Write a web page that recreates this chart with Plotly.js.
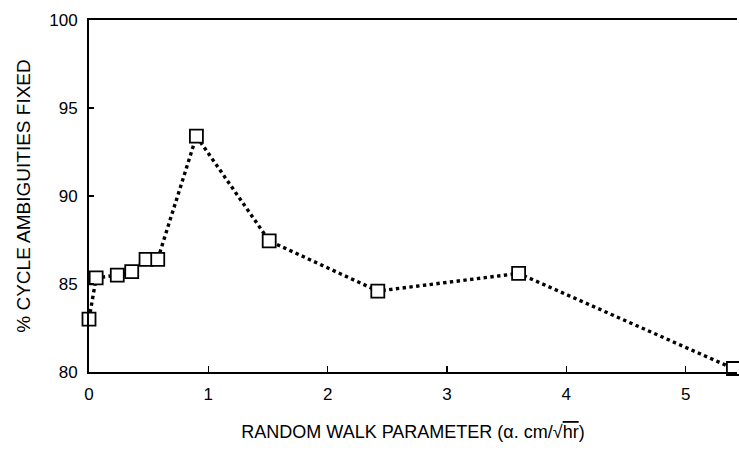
<!DOCTYPE html>
<html>
<head>
<meta charset="utf-8">
<script src="https://cdn.plot.ly/plotly-3.0.1.min.js"></script>
<style>html,body{margin:0;padding:0;background:#fff;}#chart{width:739px;height:453px;}</style>
</head>
<body>
<div id="chart"></div>
<script>
const alphaValues = [0, 0.06, 0.237, 0.358, 0.478, 0.576, 0.90, 1.51, 2.42, 3.60, 5.40];
const percentFixed = [83.0, 85.35, 85.5, 85.7, 86.4, 86.4, 93.4, 87.45, 84.6, 85.6, 80.2];
const xTicks = [0, 1, 2, 3, 4, 5];
const yTicks = [80, 85, 90, 95, 100];

const trace = {
  x: alphaValues,
  y: percentFixed,
  mode: 'lines',
  type: 'scatter',
  line: {color: '#000', width: 3.4, dash: 'dot'},
  cliponaxis: false,
  hoverinfo: 'skip'
};
const markers = {
  x: alphaValues,
  y: percentFixed,
  mode: 'markers',
  type: 'scatter',
  marker: {symbol: 'square', size: 13, color: '#fff', line: {width: 1.8, color: '#000'}},
  cliponaxis: false,
  hoverinfo: 'skip'
};

const layout = {
  width: 739, height: 453,
  margin: {l: 89, r: 2, t: 20, b: 81},
  paper_bgcolor: '#fff', plot_bgcolor: '#fff',
  showlegend: false,
  font: {family: 'Liberation Sans, Arial, sans-serif', size: 17, color: '#000'},
  xaxis: {
    range: [0, 5.43],
    tickvals: xTicks,
    ticktext: xTicks.map(String),
    ticks: 'inside', ticklen: 6, tickwidth: 1.5, tickcolor: '#000',
    showline: true, linecolor: '#000', linewidth: 2, mirror: true,
    showgrid: false, zeroline: false,
    tickfont: {size: 17},
    ticklabelstandoff: 6,
    title: {text: 'RANDOM WALK PARAMETER (α. cm/√<span style="text-decoration:overline">hr</span>)', font: {size: 18}, standoff: 22}
  },
  yaxis: {
    range: [80, 100],
    tickvals: yTicks,
    ticktext: yTicks.map(String),
    ticks: 'inside', ticklen: 5, tickwidth: 1.5, tickcolor: '#000',
    showline: true, linecolor: '#000', linewidth: 2,
    showgrid: false, zeroline: false,
    tickfont: {size: 17},
    ticklabelstandoff: 6,
    title: {text: '% CYCLE AMBIGUITIES FIXED', font: {size: 19}, standoff: 14}
  }
};

Plotly.newPlot('chart', [trace, markers], layout, {displayModeBar: false, staticPlot: true});
</script>
</body>
</html>
